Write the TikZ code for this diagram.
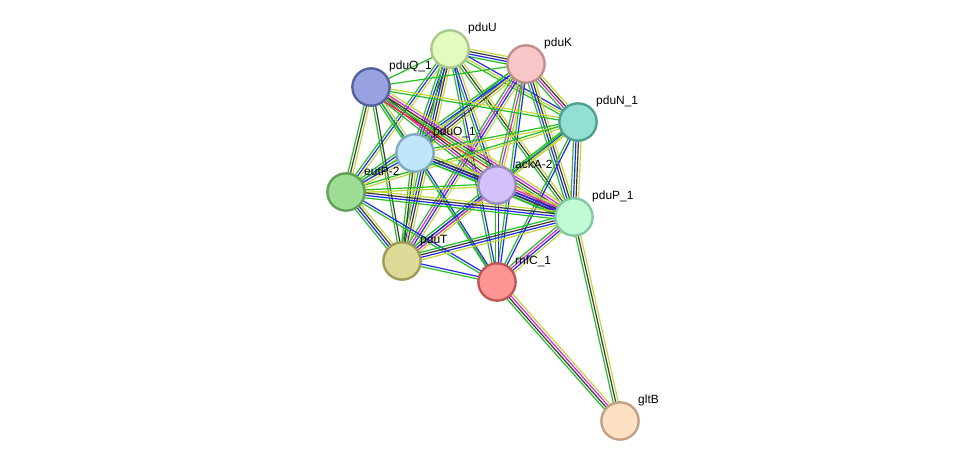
\documentclass[tikz,border=0pt]{standalone}
\usepackage{fontspec}
\setmainfont{Liberation Sans}
\usepackage{xcolor}
\usetikzlibrary{calc,backgrounds}

% evidence colours
\definecolor{evnbh}{HTML}{22C022}
\definecolor{evtxt}{HTML}{C4D63A}
\definecolor{evcoex}{HTML}{3A3A3A}
\definecolor{evcooc}{HTML}{2626F0}
\definecolor{evexpt}{HTML}{E022E0}
\definecolor{evfus}{HTML}{F02424}
% protein fills and rims
\definecolor{fillU}{HTML}{E2FCC0}\definecolor{rimU}{HTML}{A9C98A}
\definecolor{fillK}{HTML}{F8C8C8}\definecolor{rimK}{HTML}{C08C8C}
\definecolor{fillQ}{HTML}{98A2E0}\definecolor{rimQ}{HTML}{5560A0}
\definecolor{fillN}{HTML}{94DFD4}\definecolor{rimN}{HTML}{4E9E92}
\definecolor{fillO}{HTML}{BFE6FA}\definecolor{rimO}{HTML}{80A8C0}
\definecolor{fillA}{HTML}{D3C2FA}\definecolor{rimA}{HTML}{9A88C0}
\definecolor{fillE}{HTML}{9EDD93}\definecolor{rimE}{HTML}{5FA055}
\definecolor{fillP}{HTML}{C2FAD6}\definecolor{rimP}{HTML}{80C8A0}
\definecolor{fillT}{HTML}{DDDA98}\definecolor{rimT}{HTML}{9E9A55}
\definecolor{fillR}{HTML}{FD9595}\definecolor{rimR}{HTML}{C05555}
\definecolor{fillG}{HTML}{FDDFC2}\definecolor{rimG}{HTML}{C0A080}

% one line per evidence channel, side by side
\newcount\nlinks
\newcommand{\bundle}[3]{%
    \global\nlinks=0
    \foreach \ev in {#3} {\global\advance\nlinks by 1}
    \foreach \ev [count=\i] in {#3} {
        \pgfmathsetmacro{\off}{(\i-(\the\nlinks+1)/2)*0.75}
        \draw[\ev] ($(#1.center)!\off mm!90:(#2.center)$) -- ($(#2.center)!\off mm!-90:(#1.center)$);
    }
}

\begin{document}
\begin{tikzpicture}[x=0.3mm,y=-0.3mm,
    prot/.style={circle,minimum size=11.2mm,inner sep=0pt,line width=0.7mm,fill=fill#1,draw=rim#1},
    lbl/.style={anchor=west,inner sep=0pt,font=\fontsize{10.2}{12}\selectfont},
    nbh/.style={evnbh,line width=0.36mm},
    txt/.style={evtxt,line width=0.36mm},
    coex/.style={evcoex,line width=0.36mm},
    cooc/.style={evcooc,line width=0.36mm},
    expt/.style={evexpt,line width=0.36mm},
    fus/.style={evfus,line width=0.36mm}]
    \useasboundingbox (0,0) rectangle (975,467);
    % Proteins
    \node[prot=U] (U) at (450,49) {};
    \node[prot=K] (K) at (526,64) {};
    \node[prot=Q] (Q) at (371,87) {};
    \node[prot=N] (N) at (578,122) {};
    \node[prot=O] (O) at (415,153) {};
    \node[prot=A] (A) at (497,185) {};
    \node[prot=E] (E) at (346,192) {};
    \node[prot=P] (P) at (574,217) {};
    \node[prot=T] (T) at (402,261) {};
    \node[prot=R] (R) at (497,282) {};
    \node[prot=G] (G) at (620,421) {};
    % Names
    \node[lbl] (Ul) at ($(U)+(18,-21)$) {pduU};
    \node[lbl] (Kl) at ($(K)+(18,-21)$) {pduK};
    \node[lbl] (Ql) at ($(Q)+(18,-21)$) {pduQ\_1};
    \node[lbl] (Nl) at ($(N)+(18,-21)$) {pduN\_1};
    \node[lbl] (Ol) at ($(O)+(18,-21)$) {pduO\_1};
    \node[lbl] (Al) at ($(A)+(18,-21)$) {ackA-2};
    \node[lbl] (El) at ($(E)+(18,-21)$) {eutP-2};
    \node[lbl] (Pl) at ($(P)+(18,-21)$) {pduP\_1};
    \node[lbl] (Tl) at ($(T)+(18,-21)$) {pduT};
    \node[lbl] (Rl) at ($(R)+(18,-21)$) {rnfC\_1};
    \node[lbl] (Gl) at ($(G)+(18,-21)$) {gltB};
    % Interactions
    \begin{pgfonlayer}{background}
    \fill[white] (0,0) rectangle (975,467);
    \bundle{U}{K}{nbh,cooc,coex,txt}
    \bundle{U}{Q}{nbh}
    \bundle{U}{N}{nbh,txt,cooc}
    \bundle{U}{O}{nbh,cooc,coex,txt}
    \bundle{U}{A}{nbh,cooc,txt}
    \bundle{U}{E}{nbh,cooc,txt}
    \bundle{U}{P}{nbh,coex,txt}
    \bundle{U}{T}{nbh,cooc,coex,txt}
    \bundle{U}{R}{nbh,cooc}
    \bundle{K}{Q}{nbh}
    \bundle{K}{N}{nbh,expt,coex,txt}
    \bundle{K}{O}{nbh,cooc,coex,txt}
    \bundle{K}{A}{nbh,expt,txt}
    \bundle{K}{E}{nbh,cooc,txt}
    \bundle{K}{P}{nbh,cooc,coex,txt}
    \bundle{K}{T}{nbh,expt,cooc,txt}
    \bundle{K}{R}{nbh,cooc}
    \bundle{Q}{N}{nbh,txt}
    \bundle{Q}{O}{nbh,cooc,txt}
    \bundle{Q}{A}{nbh,expt,coex,txt}
    \bundle{Q}{E}{nbh,coex,txt}
    \bundle{Q}{P}{fus,nbh,coex,expt,txt}
    \bundle{Q}{T}{nbh,coex}
    \bundle{Q}{R}{nbh}
    \bundle{N}{O}{nbh,txt}
    \bundle{N}{A}{nbh,cooc,txt}
    \bundle{N}{E}{nbh,txt}
    \bundle{N}{P}{nbh,cooc,coex,txt}
    \bundle{N}{T}{nbh,txt}
    \bundle{N}{R}{nbh,cooc}
    \bundle{O}{A}{nbh,coex,cooc,txt}
    \bundle{O}{E}{nbh,cooc,txt}
    \bundle{O}{P}{nbh,cooc,coex,txt}
    \bundle{O}{T}{nbh,coex,txt}
    \bundle{O}{R}{nbh,cooc}
    \bundle{A}{E}{nbh,txt}
    \bundle{A}{P}{nbh,coex,cooc,expt,txt}
    \bundle{A}{T}{nbh,cooc,expt,txt}
    \bundle{A}{R}{nbh,cooc}
    \bundle{E}{P}{nbh,cooc,coex,txt}
    \bundle{E}{T}{nbh,cooc,coex,txt}
    \bundle{E}{R}{nbh,cooc}
    \bundle{P}{T}{nbh,coex,cooc,txt}
    \bundle{P}{R}{nbh,expt,cooc,txt}
    \bundle{T}{R}{nbh,cooc}
    \bundle{R}{G}{nbh,coex,expt,txt}
    \bundle{P}{G}{nbh,coex,txt}
    \end{pgfonlayer}
\end{tikzpicture}
\end{document}
